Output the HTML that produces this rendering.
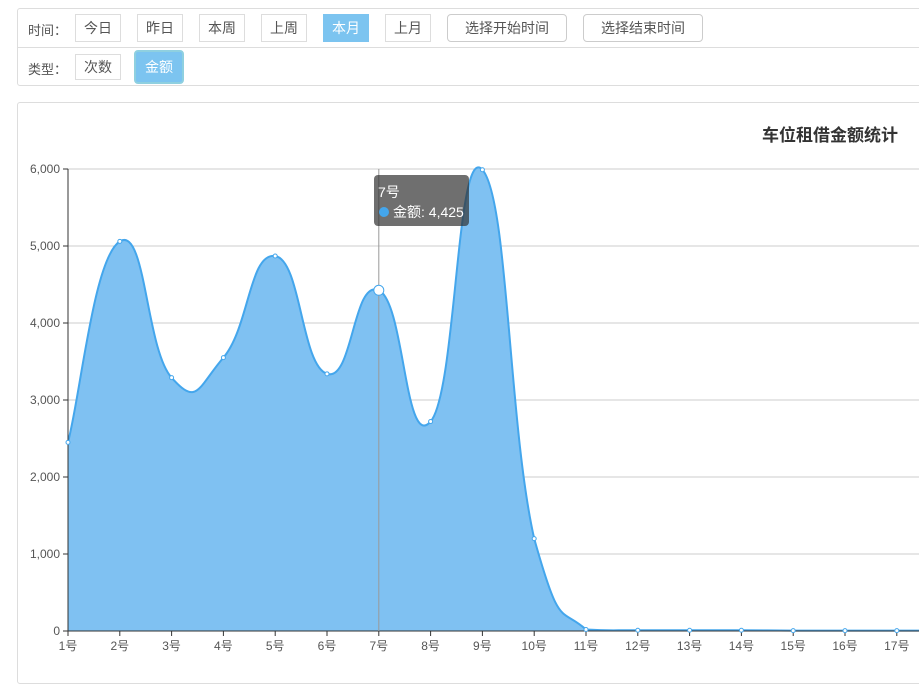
<!DOCTYPE html>
<html><head><meta charset="utf-8">
<style>
body{margin:0;width:919px;height:667px;overflow:hidden;background:#fff;font-family:"Liberation Sans","Noto Sans CJK SC",sans-serif;font-size:14px;color:#555;position:relative}
.bar{position:absolute;left:17px;width:920px;border:1px solid #ddd;border-radius:3px;box-sizing:border-box}
.lbl{position:absolute;left:10px;color:#555;font-size:13px}
.btn{position:absolute;height:28px;line-height:27px;border:1px solid #ddd;text-align:center;color:#555;background:#fff;box-sizing:border-box;font-size:14px}
.act{background:#7cc4f0;color:#fff;border-color:#7cc4f0}
.rnd{border-radius:4px;border-color:#ccc}
</style></head><body>
<div class="bar" style="top:8px;height:78px">
 <div style="position:absolute;left:0;right:0;top:38px;border-top:1px solid #ddd"></div>
 <span class="lbl" style="top:11px">时间：</span>
 <div class="btn" style="left:57px;top:5px;width:46px">今日</div>
 <div class="btn" style="left:119px;top:5px;width:46px">昨日</div>
 <div class="btn" style="left:181px;top:5px;width:46px">本周</div>
 <div class="btn" style="left:243px;top:5px;width:46px">上周</div>
 <div class="btn act" style="left:305px;top:5px;width:46px">本月</div>
 <div class="btn" style="left:367px;top:5px;width:46px">上月</div>
 <div class="btn rnd" style="left:429px;top:5px;width:120px">选择开始时间</div>
 <div class="btn rnd" style="left:565px;top:5px;width:120px">选择结束时间</div>
 <span class="lbl" style="top:50px">类型：</span>
 <div class="btn" style="left:57px;top:45px;width:46px;height:26px;line-height:25px">次数</div>
 <div class="btn act" style="left:116px;top:41px;width:50px;height:34px;line-height:31px;border:2px solid #8fd0e0;border-radius:4px">金额</div>
</div>
<div style="position:absolute;left:17px;top:102px;width:920px;height:580px;border:1px solid #ddd;border-radius:3px"></div>
<svg id="c" width="919" height="667" style="position:absolute;left:0;top:0"></svg>
<script>
const categories=["1号","2号","3号","4号","5号","6号","7号","8号","9号","10号","11号","12号","13号","14号","15号","16号","17号","18号"];
const amounts=[2450,5060,3290,3550,4870,3340,4425,2720,5990,1200,20,10,10,10,5,5,5,5];
const yTicks=[0,1000,2000,3000,4000,5000,6000];
const yLabels=["0","1,000","2,000","3,000","4,000","5,000","6,000"];
const NS="http://www.w3.org/2000/svg";
const svg=document.getElementById('c');
const x=i=>68+i*51.8, y=v=>631-v*(462/6000);
function mk(t,a,p){const e=document.createElementNS(NS,t);for(const k in a)e.setAttribute(k,a[k]);(p||svg).appendChild(e);return e;}
const t=mk('text',{x:898,y:141,'text-anchor':'end','font-size':17,'font-weight':'bold',fill:'#333'});t.textContent='车位租借金额统计';


yTicks.forEach((v,i)=>{
 const g=mk('line',{x1:68,x2:919,y1:y(v),y2:y(v),stroke:'#ccc'});
 
 
 mk('line',{x1:63,x2:68,y1:y(v),y2:y(v),stroke:'#333'});
 const l=mk('text',{x:60,y:y(v)+4,'text-anchor':'end','font-size':12,fill:'#555'});l.textContent=yLabels[i];
 
 
});
const pts=amounts.map((v,i)=>[x(i),y(v)]);
let d='M'+pts[0][0]+','+pts[0][1];
const s=0.25;
const cl=v=>Math.min(631,v);
for(let i=0;i<pts.length-1;i++){
 const p0=pts[Math.max(0,i-1)],p1=pts[i],p2=pts[i+1],p3=pts[Math.min(pts.length-1,i+2)];
 const c1=[p1[0]+(p2[0]-p0[0])*s,cl(p1[1]+(p2[1]-p0[1])*s)];
 const c2=[p2[0]-(p3[0]-p1[0])*s,cl(p2[1]-(p3[1]-p1[1])*s)];
 d+=' C'+c1+' '+c2+' '+p2;
}
const area=mk('path',{d:d+' L'+pts[pts.length-1][0]+',631 L68,631 Z',fill:'#7fc1f2'});


const line=mk('path',{d:d,fill:'none',stroke:'#44a6ec','stroke-width':2});


mk('line',{x1:68,x2:919,y1:631,y2:631,stroke:'#333'});
mk('line',{x1:68,x2:68,y1:169,y2:631,stroke:'#333'});
categories.forEach((c,i)=>{
 mk('line',{x1:x(i),x2:x(i),y1:631,y2:636,stroke:'#333'});
 const l=mk('text',{x:x(i),y:650,'text-anchor':'middle','font-size':12,fill:'#555'});l.textContent=c;
 
 
});
mk('line',{x1:x(6),x2:x(6),y1:169,y2:631,stroke:'#999'});
amounts.forEach((v,i)=>{
 const p=mk('circle',{cx:x(i),cy:y(v),r:i==6?5:2,fill:'#fff',stroke:'#44a6ec'});
 
 
});
const tg=mk('g',{});


mk('rect',{x:374,y:175,width:95,height:51,rx:4,fill:'rgba(50,50,50,0.7)'},tg);
const t1=mk('text',{x:378,y:197,'font-size':14,fill:'#fff'},tg);t1.textContent=categories[6];
mk('circle',{cx:384,cy:212,r:5,fill:'#44a6ec'},tg);
const t2=mk('text',{x:393,y:217,'font-size':14,fill:'#fff'},tg);t2.textContent='金额: '+amounts[6].toLocaleString('en-US');
</script>
</body></html>
